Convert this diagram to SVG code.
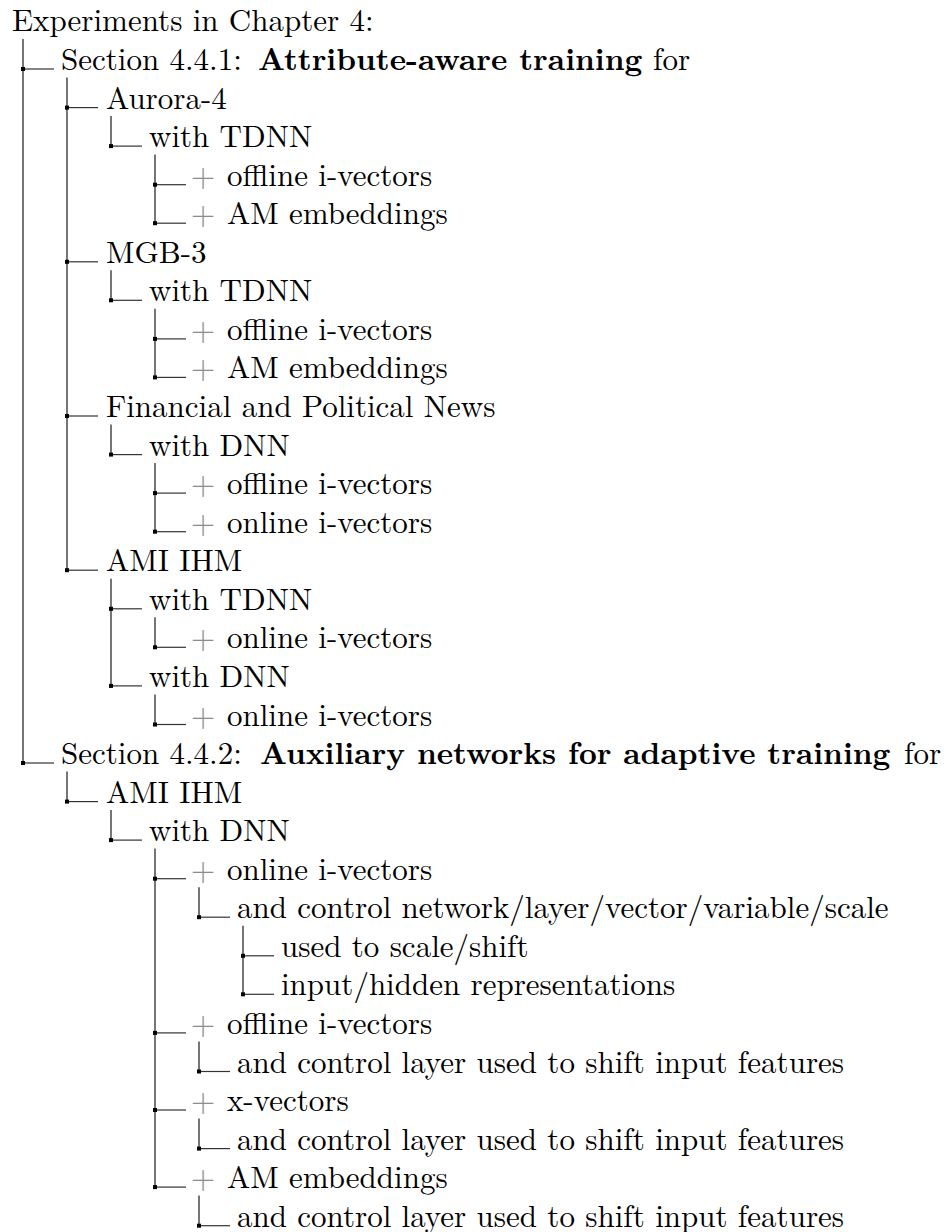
<svg xmlns="http://www.w3.org/2000/svg" xmlns:xlink="http://www.w3.org/1999/xlink" width="946" height="1232" viewBox="0 0 946 1232">
  <style>
    .t { font-size: 31px; fill: #000; }
    .b { font-weight: bold; }
    .plus { fill: #8c8c8c; }
    .v { stroke: #1a1a1a; stroke-width: 1.2; fill: none; }
    .h { stroke: #333; stroke-width: 1.2; fill: none; }
  </style>
  <defs>
    <rect id="dot" x="-2" y="-2" width="4" height="4" fill="#000"/>
  </defs>
  <rect width="946" height="1232" fill="#fff"/>

  <!-- tree connectors: verticals per parent, elbows per child -->
  <g id="connectors">
    <!-- vertical spines -->
    <line class="v" x1="23" y1="39" x2="23" y2="763"/>
    <line class="v" x1="67" y1="77.5" x2="67" y2="570.2"/>
    <line class="v" x1="111" y1="116" x2="111" y2="146.1"/>
    <line class="v" x1="155" y1="154.6" x2="155" y2="223.2"/>
    <line class="v" x1="111" y1="270.3" x2="111" y2="300.3"/>
    <line class="v" x1="155" y1="308.8" x2="155" y2="377.4"/>
    <line class="v" x1="111" y1="424.5" x2="111" y2="454.6"/>
    <line class="v" x1="155" y1="463.1" x2="155" y2="531.7"/>
    <line class="v" x1="111" y1="578.7" x2="111" y2="685.9"/>
    <line class="v" x1="155" y1="617.3" x2="155" y2="647.3"/>
    <line class="v" x1="155" y1="694.4" x2="155" y2="724.5"/>
    <line class="v" x1="67" y1="771.5" x2="67" y2="801.6"/>
    <line class="v" x1="111" y1="810.1" x2="111" y2="840.1"/>
    <line class="v" x1="155" y1="848.6" x2="155" y2="1187.1"/>
    <line class="v" x1="199" y1="887.2" x2="199" y2="917.2"/>
    <line class="v" x1="243" y1="925.7" x2="243" y2="994.3"/>
    <line class="v" x1="199" y1="1041.4" x2="199" y2="1071.5"/>
    <line class="v" x1="199" y1="1118.5" x2="199" y2="1148.6"/>
    <line class="v" x1="199" y1="1195.6" x2="199" y2="1225.7"/>

    <!-- elbows -->
    <line class="h" x1="23" y1="69" x2="54" y2="69"/>
    <line class="h" x1="67" y1="107.6" x2="98" y2="107.6"/>
    <line class="h" x1="111" y1="146.1" x2="142" y2="146.1"/>
    <line class="h" x1="155" y1="184.7" x2="186" y2="184.7"/>
    <line class="h" x1="155" y1="223.2" x2="186" y2="223.2"/>
    <line class="h" x1="67" y1="261.8" x2="98" y2="261.8"/>
    <line class="h" x1="111" y1="300.3" x2="142" y2="300.3"/>
    <line class="h" x1="155" y1="338.9" x2="186" y2="338.9"/>
    <line class="h" x1="155" y1="377.4" x2="186" y2="377.4"/>
    <line class="h" x1="67" y1="416" x2="98" y2="416"/>
    <line class="h" x1="111" y1="454.6" x2="142" y2="454.6"/>
    <line class="h" x1="155" y1="493.1" x2="186" y2="493.1"/>
    <line class="h" x1="155" y1="531.7" x2="186" y2="531.7"/>
    <line class="h" x1="67" y1="570.2" x2="98" y2="570.2"/>
    <line class="h" x1="111" y1="608.8" x2="142" y2="608.8"/>
    <line class="h" x1="155" y1="647.3" x2="186" y2="647.3"/>
    <line class="h" x1="111" y1="685.9" x2="142" y2="685.9"/>
    <line class="h" x1="155" y1="724.5" x2="186" y2="724.5"/>
    <line class="h" x1="23" y1="763" x2="54" y2="763"/>
    <line class="h" x1="67" y1="801.6" x2="98" y2="801.6"/>
    <line class="h" x1="111" y1="840.1" x2="142" y2="840.1"/>
    <line class="h" x1="155" y1="878.7" x2="186" y2="878.7"/>
    <line class="h" x1="199" y1="917.2" x2="230" y2="917.2"/>
    <line class="h" x1="243" y1="955.8" x2="274" y2="955.8"/>
    <line class="h" x1="243" y1="994.3" x2="274" y2="994.3"/>
    <line class="h" x1="155" y1="1032.9" x2="186" y2="1032.9"/>
    <line class="h" x1="199" y1="1071.5" x2="230" y2="1071.5"/>
    <line class="h" x1="155" y1="1110" x2="186" y2="1110"/>
    <line class="h" x1="199" y1="1148.6" x2="230" y2="1148.6"/>
    <line class="h" x1="155" y1="1187.1" x2="186" y2="1187.1"/>
    <line class="h" x1="199" y1="1225.7" x2="230" y2="1225.7"/>

    <!-- junction dots -->
    <use xlink:href="#dot" x="23" y="69"/>
    <use xlink:href="#dot" x="67" y="107.6"/>
    <use xlink:href="#dot" x="111" y="146.1"/>
    <use xlink:href="#dot" x="155" y="184.7"/>
    <use xlink:href="#dot" x="155" y="223.2"/>
    <use xlink:href="#dot" x="67" y="261.8"/>
    <use xlink:href="#dot" x="111" y="300.3"/>
    <use xlink:href="#dot" x="155" y="338.9"/>
    <use xlink:href="#dot" x="155" y="377.4"/>
    <use xlink:href="#dot" x="67" y="416"/>
    <use xlink:href="#dot" x="111" y="454.6"/>
    <use xlink:href="#dot" x="155" y="493.1"/>
    <use xlink:href="#dot" x="155" y="531.7"/>
    <use xlink:href="#dot" x="67" y="570.2"/>
    <use xlink:href="#dot" x="111" y="608.8"/>
    <use xlink:href="#dot" x="155" y="647.3"/>
    <use xlink:href="#dot" x="111" y="685.9"/>
    <use xlink:href="#dot" x="155" y="724.5"/>
    <use xlink:href="#dot" x="23" y="763"/>
    <use xlink:href="#dot" x="67" y="801.6"/>
    <use xlink:href="#dot" x="111" y="840.1"/>
    <use xlink:href="#dot" x="155" y="878.7"/>
    <use xlink:href="#dot" x="199" y="917.2"/>
    <use xlink:href="#dot" x="243" y="955.8"/>
    <use xlink:href="#dot" x="243" y="994.3"/>
    <use xlink:href="#dot" x="155" y="1032.9"/>
    <use xlink:href="#dot" x="199" y="1071.5"/>
    <use xlink:href="#dot" x="155" y="1110"/>
    <use xlink:href="#dot" x="199" y="1148.6"/>
    <use xlink:href="#dot" x="155" y="1187.1"/>
    <use xlink:href="#dot" x="199" y="1225.7"/>
  </g>

  <!-- node labels (Computer-Modern style face) -->
  <g id="nodes" font-family="Latin Modern Roman, Liberation Serif, serif">
    <g id="root">
      <text class="t" x="12" y="31.4">Experiments in Chapter 4:</text>
    </g>

    <!-- section 4.4.1 -->
    <g id="sec-441">
      <text class="t" x="61" y="70">Section 4.4.1:<tspan class="b" x="258">Attribute-aware training</tspan><tspan x="653">for</tspan></text>
    </g>

    <g id="aurora4">
      <text class="t" x="106" y="108.6">Aurora-4</text>
    </g>
    <g id="aurora4-tdnn">
      <text class="t" x="149" y="147.1">with TDNN</text>
    </g>
    <g id="aurora4-tdnn-offline">
      <text class="t" x="191" y="185.7"><tspan class="plus">+</tspan><tspan x="227">offline i-vectors</tspan></text>
    </g>
    <g id="aurora4-tdnn-am">
      <text class="t" x="191" y="224.2"><tspan class="plus">+</tspan><tspan x="227">AM embeddings</tspan></text>
    </g>

    <g id="mgb3">
      <text class="t" x="106" y="262.8">MGB-3</text>
    </g>
    <g id="mgb3-tdnn">
      <text class="t" x="149" y="301.3">with TDNN</text>
    </g>
    <g id="mgb3-tdnn-offline">
      <text class="t" x="191" y="339.9"><tspan class="plus">+</tspan><tspan x="227">offline i-vectors</tspan></text>
    </g>
    <g id="mgb3-tdnn-am">
      <text class="t" x="191" y="378.4"><tspan class="plus">+</tspan><tspan x="227">AM embeddings</tspan></text>
    </g>

    <g id="fpn">
      <text class="t" x="106" y="417">Financial and Political News</text>
    </g>
    <g id="fpn-dnn">
      <text class="t" x="149" y="455.6">with DNN</text>
    </g>
    <g id="fpn-dnn-offline">
      <text class="t" x="191" y="494.1"><tspan class="plus">+</tspan><tspan x="227">offline i-vectors</tspan></text>
    </g>
    <g id="fpn-dnn-online">
      <text class="t" x="191" y="532.7"><tspan class="plus">+</tspan><tspan x="227">online i-vectors</tspan></text>
    </g>

    <g id="ami-a">
      <text class="t" x="106" y="571.2">AMI IHM</text>
    </g>
    <g id="ami-a-tdnn">
      <text class="t" x="149" y="609.8">with TDNN</text>
    </g>
    <g id="ami-a-tdnn-online">
      <text class="t" x="191" y="648.3"><tspan class="plus">+</tspan><tspan x="227">online i-vectors</tspan></text>
    </g>
    <g id="ami-a-dnn">
      <text class="t" x="149" y="686.9">with DNN</text>
    </g>
    <g id="ami-a-dnn-online">
      <text class="t" x="191" y="725.5"><tspan class="plus">+</tspan><tspan x="227">online i-vectors</tspan></text>
    </g>

    <!-- section 4.4.2 -->
    <g id="sec-442">
      <text class="t" x="61" y="764">Section 4.4.2:<tspan class="b" x="260">Auxiliary networks for adaptive training</tspan><tspan x="904">for</tspan></text>
    </g>

    <g id="ami-b">
      <text class="t" x="106" y="802.6">AMI IHM</text>
    </g>
    <g id="ami-b-dnn">
      <text class="t" x="149" y="841.1">with DNN</text>
    </g>
    <g id="ami-b-online">
      <text class="t" x="191" y="879.7"><tspan class="plus">+</tspan><tspan x="227">online i-vectors</tspan></text>
    </g>
    <g id="ami-b-online-ctrl">
      <text class="t" x="237" y="918.2">and control network/layer/vector/variable/scale</text>
    </g>
    <g id="ami-b-online-ctrl-use">
      <text class="t" x="281" y="956.8">used to scale/shift</text>
    </g>
    <g id="ami-b-online-ctrl-repr">
      <text class="t" x="281" y="995.3">input/hidden representations</text>
    </g>
    <g id="ami-b-offline">
      <text class="t" x="191" y="1033.9"><tspan class="plus">+</tspan><tspan x="227">offline i-vectors</tspan></text>
    </g>
    <g id="ami-b-offline-ctrl">
      <text class="t" x="237" y="1072.5">and control layer used to shift input features</text>
    </g>
    <g id="ami-b-xvec">
      <text class="t" x="191" y="1111"><tspan class="plus">+</tspan><tspan x="227">x-vectors</tspan></text>
    </g>
    <g id="ami-b-xvec-ctrl">
      <text class="t" x="237" y="1149.6">and control layer used to shift input features</text>
    </g>
    <g id="ami-b-am">
      <text class="t" x="191" y="1188.1"><tspan class="plus">+</tspan><tspan x="227">AM embeddings</tspan></text>
    </g>
    <g id="ami-b-am-ctrl">
      <text class="t" x="237" y="1226.7">and control layer used to shift input features</text>
    </g>
  </g>
</svg>
